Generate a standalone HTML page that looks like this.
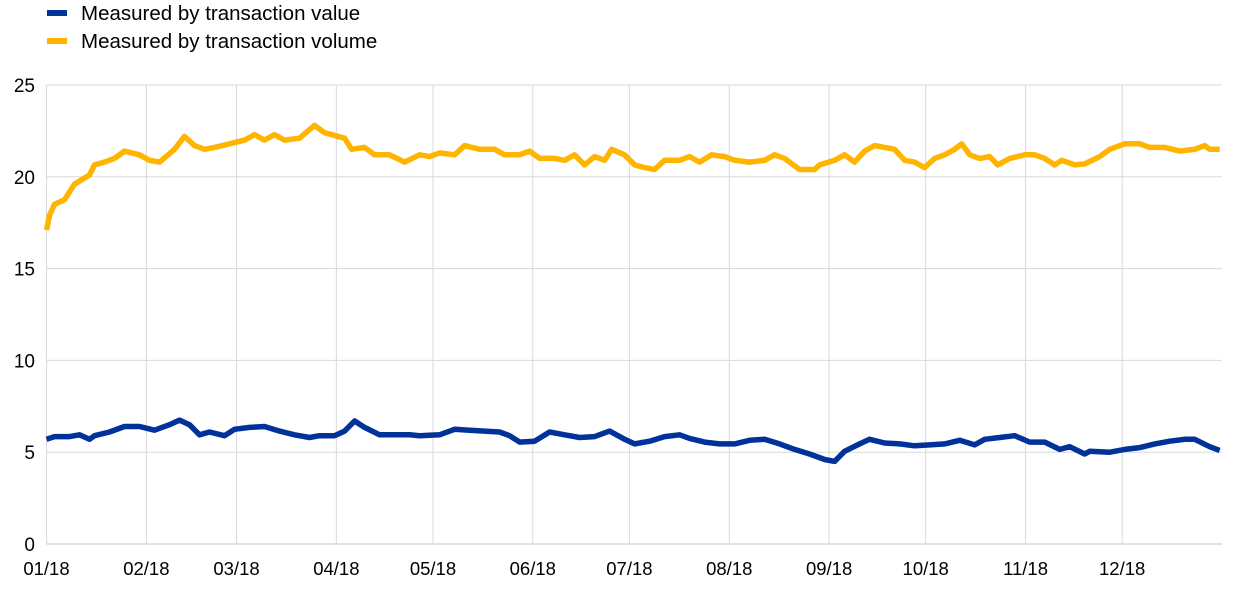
<!DOCTYPE html>
<html><head><meta charset="utf-8"><style>
body{margin:0;background:#fff;}
svg{display:block;font-family:"Liberation Sans",Arial,sans-serif;}
</style></head><body>
<svg id="chart" width="1240" height="590">
<g>
<rect x="47" y="10" width="20" height="6" fill="#003299"/>
<text x="81" y="20" font-size="20.5" fill="#000">Measured by transaction value</text>
<rect x="47" y="38" width="20" height="6" fill="#ffb400"/>
<text x="81" y="48" font-size="20.5" fill="#000">Measured by transaction volume</text>
</g>
<g id="grid"></g><g id="axes"></g><g id="series"></g>
</svg>
<script>
const monthLabels=["01/18","02/18","03/18","04/18","05/18","06/18","07/18","08/18","09/18","10/18","11/18","12/18"];
const monthDays=[0,31,59,90,120,151,181,212,243,273,304,334];
const yTicks=[0,5,10,15,20,25];
const volX=[47,50,55,65,75,90,95,105,115,125,140,150,160,175,185,195,205,215,230,245,255,265,275,285,300,315,325,345,352,365,375,390,405,420,430,440,455,465,480,495,505,520,530,540,555,565,575,585,595,605,612,625,635,645,655,665,680,690,700,712,725,735,750,765,775,785,800,815,820,835,845,855,865,875,885,895,905,915,925,935,945,955,962,970,980,990,998,1010,1025,1035,1045,1055,1062,1075,1085,1100,1110,1125,1140,1150,1165,1180,1195,1205,1210,1220];
const volVals=[17.1,17.9,18.5,18.75,19.6,20.1,20.65,20.8,21.0,21.4,21.2,20.9,20.8,21.5,22.2,21.7,21.5,21.6,21.8,22.0,22.3,22.0,22.3,22.0,22.1,22.8,22.4,22.1,21.5,21.6,21.2,21.2,20.8,21.2,21.1,21.3,21.2,21.7,21.5,21.5,21.2,21.2,21.4,21.0,21.0,20.9,21.2,20.65,21.1,20.9,21.5,21.2,20.65,20.5,20.4,20.9,20.9,21.1,20.8,21.2,21.1,20.9,20.8,20.9,21.2,21.0,20.4,20.4,20.65,20.9,21.2,20.8,21.4,21.7,21.6,21.5,20.9,20.8,20.5,21.0,21.2,21.5,21.8,21.2,21.0,21.1,20.65,21.0,21.2,21.2,21.0,20.65,20.9,20.65,20.7,21.1,21.5,21.8,21.8,21.6,21.6,21.4,21.5,21.7,21.5,21.5];
const valX=[47,55,70,80,90,95,110,125,140,155,170,180,190,200,210,225,235,250,265,280,295,310,320,335,345,355,365,380,395,410,420,440,455,470,485,500,510,520,535,550,565,580,595,610,625,635,650,665,680,690,705,720,735,750,765,780,795,810,825,835,845,860,870,885,900,915,930,945,960,975,985,1000,1015,1030,1045,1060,1070,1085,1090,1110,1125,1140,1155,1170,1185,1195,1210,1220];
const valVals=[5.7,5.85,5.85,5.95,5.7,5.9,6.1,6.4,6.4,6.2,6.5,6.75,6.5,5.95,6.1,5.9,6.25,6.35,6.4,6.15,5.95,5.8,5.9,5.9,6.15,6.7,6.35,5.95,5.95,5.95,5.9,5.95,6.25,6.2,6.15,6.1,5.9,5.55,5.6,6.1,5.95,5.8,5.85,6.15,5.7,5.45,5.6,5.85,5.95,5.75,5.55,5.45,5.45,5.65,5.7,5.45,5.15,4.9,4.6,4.5,5.05,5.45,5.7,5.5,5.45,5.35,5.4,5.45,5.65,5.4,5.7,5.8,5.9,5.55,5.55,5.15,5.3,4.9,5.05,5.0,5.15,5.25,5.45,5.6,5.7,5.7,5.3,5.1];
const X0=46.5,X1=1222,Y0=544,Y1=85;
const ns="http://www.w3.org/2000/svg";
function xDay(d){return X0+d*(X1-X0)/365;}
function xAt(i,arr){return xDay((arr[i]-47)/3.22);}
function y(v){return Y0-v*(Y0-Y1)/25;}
function el(t,a,p){const e=document.createElementNS(ns,t);for(const k in a)e.setAttribute(k,a[k]);p.appendChild(e);return e;}
const grid=document.getElementById('grid'),axes=document.getElementById('axes'),ser=document.getElementById('series');
yTicks.forEach(v=>{
 if(v>0){const l=el('line',{x1:X0,x2:X1,y1:y(v),y2:y(v),stroke:'#d9d9d9','stroke-width':1},grid);
 
 }
 const t=el('text',{x:35,y:y(v)+7,'font-size':19,'text-anchor':'end',fill:'#000'},axes);t.textContent=v;
 
 
});
monthDays.forEach((d,i)=>{
 const l=el('line',{x1:xDay(d),x2:xDay(d),y1:Y1,y2:Y0,stroke:'#d9d9d9','stroke-width':1},grid);
 
 
 const t=el('text',{x:xDay(d),y:575,'font-size':18.5,'text-anchor':'middle',fill:'#000'},axes);t.textContent=monthLabels[i];
 
 
});
const ax=el('line',{x1:X0,x2:X1,y1:Y0,y2:Y0,stroke:'#d9d9d9','stroke-width':1.5},axes);


function line(xs,vs,color,name){
 const d=xs.map((p,i)=>(i?'L':'M')+xAt(i,xs).toFixed(1)+','+y(vs[i]).toFixed(1)).join(' ');
 const p=el('path',{d:d,fill:'none',stroke:color,'stroke-width':5.5,'stroke-linejoin':'round'},ser);
 
 
}
line(volX,volVals,'#ffb400','series-transaction-volume');
line(valX,valVals,'#003299','series-transaction-value');
</script>
</body></html>
